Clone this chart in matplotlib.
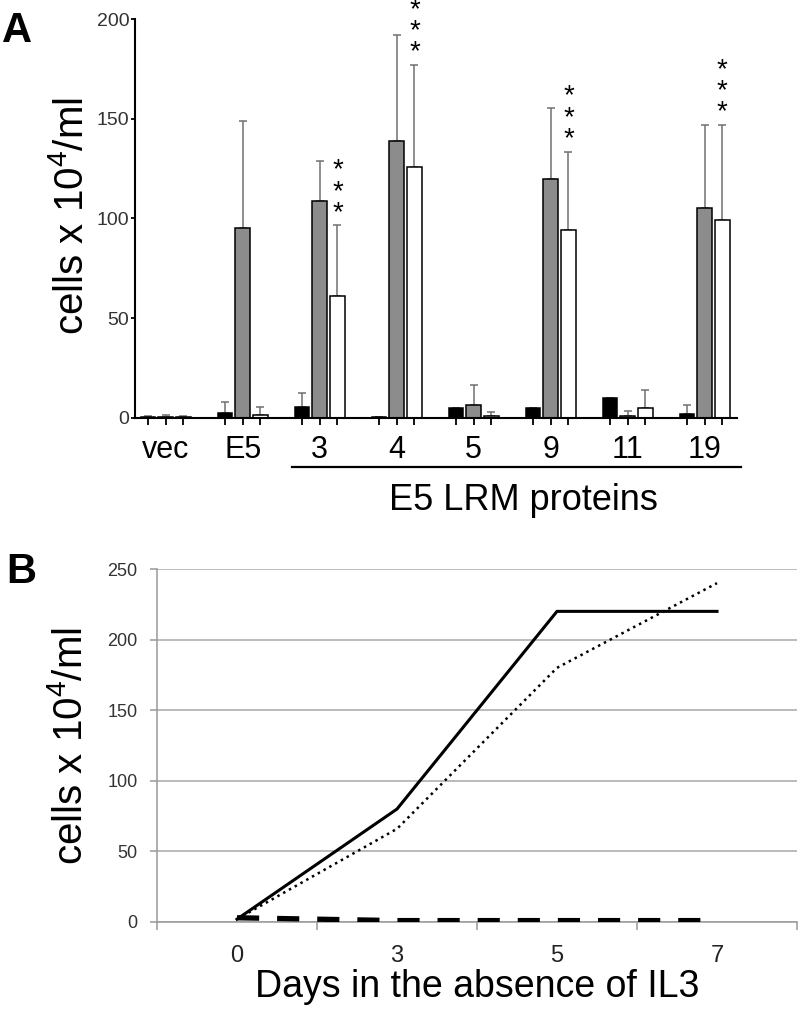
import numpy as np
import matplotlib.pyplot as plt
from matplotlib.transforms import blended_transform_factory

plt.rcParams['font.family'] = ['Liberation Sans', 'DejaVu Sans']
plt.rcParams['mathtext.fontset'] = 'custom'
plt.rcParams['mathtext.rm'] = 'Liberation Sans'
plt.rcParams['mathtext.it'] = 'Liberation Sans:italic'
plt.rcParams['mathtext.bf'] = 'Liberation Sans:bold'

# Panel A: cell counts per construct (mean and upper error)
groups = ['vec', 'E5', '3', '4', '5', '9', '11', '19']
black_vals = [0.3, 2.5, 5.5, 0.3, 5, 5, 10, 2]
black_err = [0.7, 5.5, 7, 0.4, 0, 0, 0, 4.5]
gray_vals = [0.6, 95, 109, 139, 6.7, 120, 1, 105.5]
gray_err = [0.7, 54, 20, 53, 9.8, 35.5, 2.5, 41.5]
white_vals = [0.3, 1.5, 61, 126, 1.2, 94, 5, 99]
white_err = [0.7, 4, 35.5, 51, 2, 39.5, 9, 48]
star_groups = [2, 3, 5, 7]

# Panel B: growth curves
days = ['0', '3', '5', '7']
line_solid = [2, 80, 220, 220]
line_dotted = [2, 66, 180, 240]
line_dashed = [3, 1, 1, 1]

ylabel = r'cells x 10$^\mathrm{4}$/ml'

fig = plt.figure(figsize=(8, 10.11), dpi=100)

# ---- panel A ----
axA = fig.add_axes([135/800, 1 - 418/1011, 602/800, 399/1011])
x = np.arange(len(groups))
off = 0.23
w = 0.19
series = [(black_vals, black_err, 'black', -off),
          (gray_vals, gray_err, '#8c8c8c', 0),
          (white_vals, white_err, 'white', off)]
for vals, err, c, dx in series:
    axA.errorbar(x + dx, vals, yerr=[np.zeros(len(vals)), err], fmt='none',
                 ecolor='#707070', elinewidth=1.1, capsize=3, capthick=1.1, zorder=1)
    axA.bar(x + dx, vals, width=w, color=c, edgecolor='black', linewidth=1.1, zorder=2)

axA.set_xlim(-0.40, 7.42)
axA.set_ylim(0, 200)
axA.set_yticks([0, 50, 100, 150, 200])
axA.tick_params(axis='y', labelsize=14, labelcolor='#333333', length=3, width=1.3, pad=1)
axA.set_xticks(x, groups)
axA.set_xticks(np.concatenate([x - off, x + off]), minor=True)
axA.tick_params(axis='x', which='both', length=5, width=1.3, direction='out')
axA.tick_params(axis='x', which='major', labelsize=22, pad=7)
for s in ['top', 'right']:
    axA.spines[s].set_visible(False)
for s in ['left', 'bottom']:
    axA.spines[s].set_linewidth(1.5)

# significance stars above the white bars
fs_star = 20
for gi in star_groups:
    top = white_vals[gi] + white_err[gi]
    axA.annotate('*\n*\n*', xy=(gi + off, top + 8), xytext=(0, -11.8),
                 textcoords='offset points', ha='center', va='bottom',
                 fontsize=fs_star, linespacing=0.76, annotation_clip=False)

tr = blended_transform_factory(axA.transData, axA.transAxes)
axA.plot([1.64, 7.47], [-0.123, -0.123], color='black', lw=1.6, transform=tr, clip_on=False)
axA.text(4.64, -0.206, 'E5 LRM proteins', transform=tr, ha='center', va='center', fontsize=26)

# ---- panel B ----
axB = fig.add_axes([157/800, 1 - 922/1011, 640/800, 353/1011])
xb = np.arange(len(days))
axB.plot(xb, line_solid, color='black', lw=2.2, zorder=3)
axB.plot(xb, line_dotted, color='black', lw=1.8, ls=':', zorder=3)
axB.plot(xb, line_dashed, color='black', lw=3.8, dashes=(4.2, 3.4), zorder=3)
axB.set_xlim(-0.5, 3.5)
axB.set_ylim(0, 250)
axB.set_yticks([0, 50, 100, 150, 200, 250])
axB.grid(axis='y', color='#a8a8a8', lw=1.1)
axB.set_axisbelow(True)
axB.tick_params(axis='y', labelsize=13, labelcolor='#333333', length=5, color='#999999', width=1.1, pad=9)
axB.set_xticks(np.arange(-0.5, 4, 1), [''] * 5)
axB.set_xticks(xb, days, minor=True)
axB.tick_params(axis='x', which='major', length=6, color='#999999', width=1.1)
axB.tick_params(axis='x', which='minor', length=0, labelsize=17, pad=16.5, labelcolor='#222222')
for s in ['top', 'right']:
    axB.spines[s].set_visible(False)
for s in ['left', 'bottom']:
    axB.spines[s].set_color('#999999')
    axB.spines[s].set_linewidth(1.1)

# ---- labels ----
fig.text(83/800, 1 - 216/1011, ylabel, rotation=90, rotation_mode='anchor',
         ha='center', va='baseline', fontsize=29)
fig.text(82/800, 1 - 746/1011, ylabel, rotation=90, rotation_mode='anchor',
         ha='center', va='baseline', fontsize=29)
fig.text(477/800, 1 - 997/1011, 'Days in the absence of IL3', ha='center', va='baseline', fontsize=27)
fig.text(2/800, 1 - 42/1011, 'A', fontsize=30, fontweight='bold', va='baseline')
fig.text(6/800, 1 - 583/1011, 'B', fontsize=30, fontweight='bold', va='baseline')

fig.savefig('out.png', dpi=100)
